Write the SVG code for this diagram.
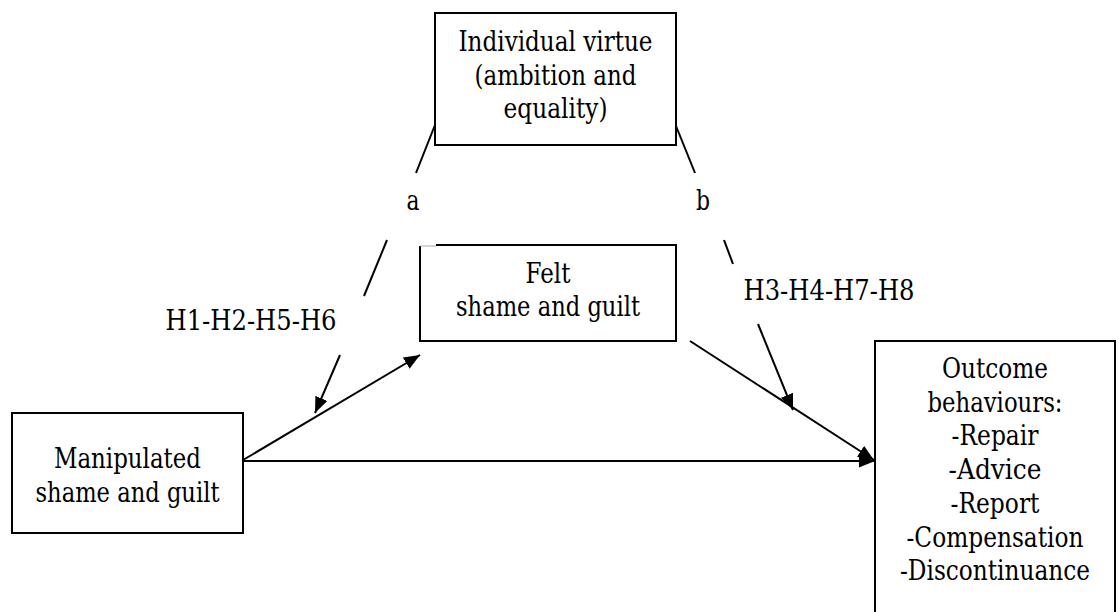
<svg xmlns="http://www.w3.org/2000/svg" width="1119" height="612" viewBox="0 0 1119 612">
<style>
.box{fill:#fff;stroke:#000;stroke-width:2}
.t{font-family:'DejaVu Serif','Liberation Serif',serif;font-size:27px;fill:#000;text-anchor:middle}
.ln{stroke:#000;stroke-width:2;fill:none}
</style>
<defs>
<marker id="ah" markerUnits="userSpaceOnUse" markerWidth="18" markerHeight="14" refX="16" refY="6.5" orient="auto">
<path d="M0,0 L16,6.5 L0,13 Z" fill="#000"/>
</marker>
</defs>
<rect width="1119" height="612" fill="#fff"/>
<g id="connectors">
<line class="ln" x1="435" y1="125" x2="416" y2="173"/>
<line class="ln" x1="387" y1="240" x2="364" y2="296"/>
<line class="ln" x1="340" y1="355" x2="315" y2="413" marker-end="url(#ah)"/>
<line class="ln" x1="676" y1="126" x2="695" y2="173"/>
<line class="ln" x1="724" y1="240" x2="733" y2="264"/>
<line class="ln" x1="758" y1="324" x2="793" y2="410" marker-end="url(#ah)"/>
<line class="ln" x1="243" y1="460" x2="420" y2="355" marker-end="url(#ah)"/>
<line class="ln" x1="243" y1="461" x2="875" y2="461" marker-end="url(#ah)"/>
<line class="ln" x1="690" y1="341" x2="874" y2="460" marker-end="url(#ah)"/>
</g>
<g id="labels">
<text class="t" x="413" y="210" textLength="13" lengthAdjust="spacingAndGlyphs">a</text>
<text class="t" x="703" y="210" textLength="14" lengthAdjust="spacingAndGlyphs">b</text>
<text class="t" x="251" y="330" textLength="171" lengthAdjust="spacingAndGlyphs">H1-H2-H5-H6</text>
<text class="t" x="829" y="300" textLength="171" lengthAdjust="spacingAndGlyphs">H3-H4-H7-H8</text>
</g>
<g id="virtue">
<rect class="box" x="435" y="13" width="241" height="132"/>
<text class="t" x="555.5" y="51" textLength="194" lengthAdjust="spacingAndGlyphs">Individual virtue</text>
<text class="t" x="555.5" y="85" textLength="162" lengthAdjust="spacingAndGlyphs">(ambition and</text>
<text class="t" x="555.5" y="118" textLength="104" lengthAdjust="spacingAndGlyphs">equality)</text>
</g>
<g id="felt">
<path d="M436,245 H676 V341 H420 V246" class="ln"/>
<line x1="420" y1="246" x2="436" y2="246" stroke="#aaa" stroke-width="1"/>
<text class="t" x="548" y="283" textLength="45" lengthAdjust="spacingAndGlyphs">Felt</text>
<text class="t" x="548" y="316" textLength="184" lengthAdjust="spacingAndGlyphs">shame and guilt</text>
</g>
<g id="manipulated">
<rect class="box" x="12" y="413" width="231" height="120"/>
<text class="t" x="127.5" y="468" textLength="147" lengthAdjust="spacingAndGlyphs">Manipulated</text>
<text class="t" x="127.5" y="502" textLength="184" lengthAdjust="spacingAndGlyphs">shame and guilt</text>
</g>
<g id="outcome">
<rect class="box" x="875" y="341" width="240" height="290"/>
<text class="t" x="995" y="378" textLength="106" lengthAdjust="spacingAndGlyphs">Outcome</text>
<text class="t" x="995" y="412" textLength="135" lengthAdjust="spacingAndGlyphs">behaviours:</text>
<text class="t" x="995" y="445" textLength="87" lengthAdjust="spacingAndGlyphs">-Repair</text>
<text class="t" x="995" y="479" textLength="93" lengthAdjust="spacingAndGlyphs">-Advice</text>
<text class="t" x="995" y="513" textLength="89" lengthAdjust="spacingAndGlyphs">-Report</text>
<text class="t" x="995" y="547" textLength="177" lengthAdjust="spacingAndGlyphs">-Compensation</text>
<text class="t" x="995" y="580" textLength="190" lengthAdjust="spacingAndGlyphs">-Discontinuance</text>
</g>
</svg>
